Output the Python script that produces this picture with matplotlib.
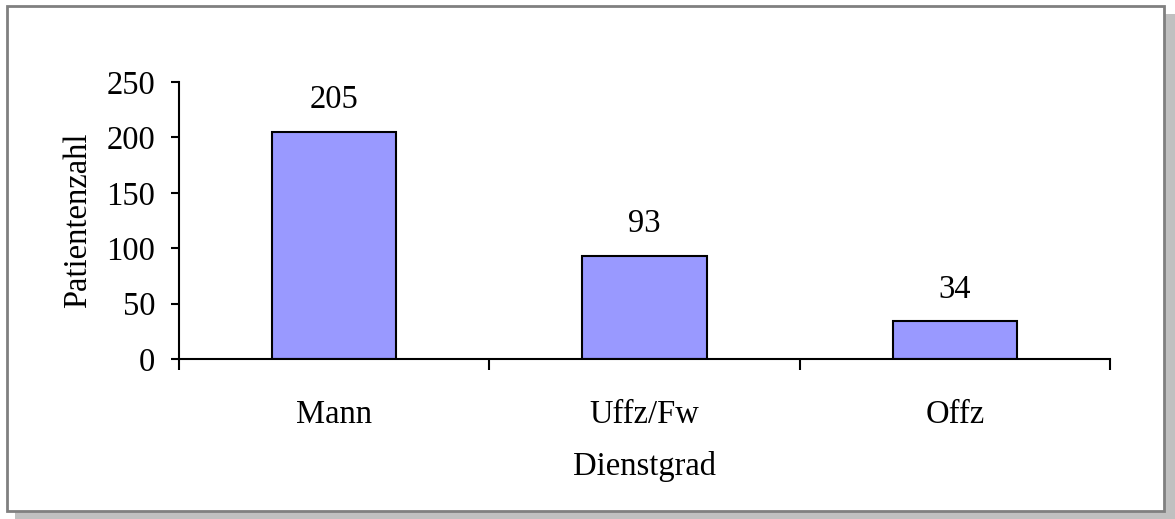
import matplotlib
matplotlib.use("Agg")
import matplotlib.pyplot as plt
from matplotlib.patches import Rectangle

categories = ["Mann", "Uffz/Fw", "Offz"]
counts = [205, 93, 34]
yticks = [0, 50, 100, 150, 200, 250]

plt.rcParams['font.family'] = ['Liberation Serif', 'DejaVu Serif']
FS = 23.5

W, H = 1175, 519
fig = plt.figure(figsize=(W / 100, H / 100), dpi=100)
fig.patch.set_facecolor("white")

# Excel-style frame with drop shadow
fig.patches.append(Rectangle((15 / W, 1 - 519 / H), (1175 - 15) / W, (519 - 14) / H,
                             transform=fig.transFigure, facecolor="#c0c0c0",
                             edgecolor="none", zorder=-2))
fig.patches.append(Rectangle((7 / W, 1 - 511 / H), (1164 - 7) / W, (511 - 6) / H,
                             transform=fig.transFigure, facecolor="white",
                             edgecolor="#808080", linewidth=2, zorder=-1))

ax = fig.add_axes([179 / W, 1 - 359 / H, (1110 - 179) / W, (359 - 82) / H])
ax.set_zorder(5)
ax.patch.set_alpha(0)
x = range(len(categories))
bars = ax.bar(x, counts, width=0.4, color="#9999ff", edgecolor="black", linewidth=1.5)
for xi, v in zip(x, counts):
    ax.annotate(str(v), (xi, v), xytext=(0, 12), textcoords="offset points",
                ha="center", va="bottom", fontsize=FS)

ax.set_xlim(-0.5, 2.5)
ax.set_ylim(0, 250)
ax.set_yticks(yticks)
ax.set_xticks([-0.5, 0.5, 1.5, 2.5], minor=False)
ax.set_xticklabels([])
ax.set_xticks(list(x), minor=True)
ax.set_xticklabels(categories, minor=True)
ax.tick_params(axis="x", which="major", direction="out", length=8, width=1.5)
ax.tick_params(axis="x", which="minor", length=0, pad=29, labelsize=FS)
ax.tick_params(axis="y", direction="out", length=6, width=1.5, labelsize=FS, pad=11)
for s in ["top", "right"]:
    ax.spines[s].set_visible(False)
for s in ["left", "bottom"]:
    ax.spines[s].set_linewidth(1.5)

ax.set_xlabel("Dienstgrad", fontsize=FS, labelpad=15)
ax.set_ylabel("Patientenzahl", fontsize=FS, labelpad=10)

fig.savefig("out.png", dpi=100)
